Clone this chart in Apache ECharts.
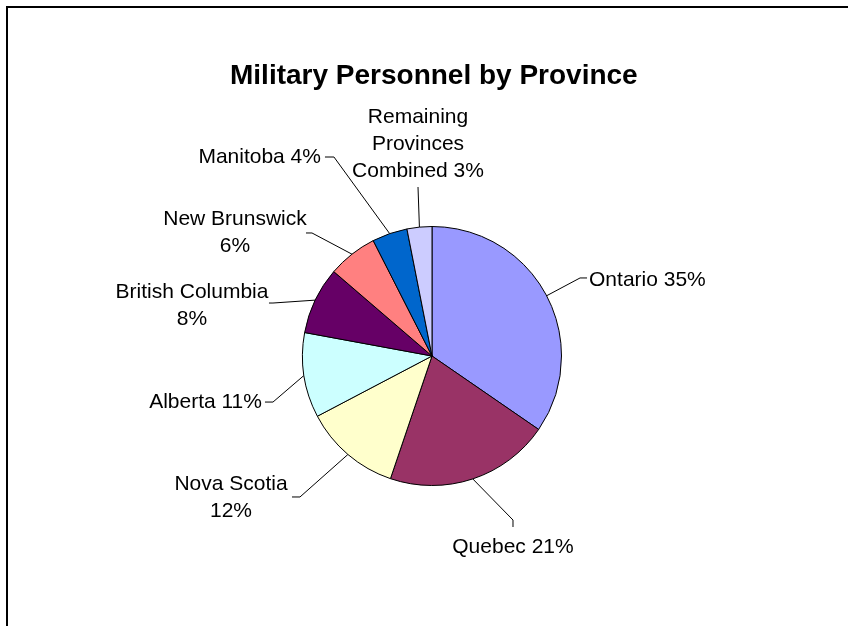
<!DOCTYPE html>
<html><head><meta charset="utf-8">
<script src="https://cdn.jsdelivr.net/npm/echarts@6/dist/echarts.min.js"></script>
<style>html,body{margin:0;padding:0;background:#fff}#c{width:848px;height:626px}</style>
</head><body><div id="c"></div>
<script>
const titleText = 'Military Personnel by Province';
const provinces = ['Ontario','Quebec','Nova Scotia','Alberta','British Columbia','New Brunswick','Manitoba','Remaining Provinces Combined'];
const shares = [34.6,20.6,12.1,10.6,8.4,6.2,4.4,3.1];
const labelNames = ['Ontario','Quebec','Nova Scotia\n','Alberta','British Columbia\n','New Brunswick\n','Manitoba','Remaining\nProvinces\nCombined'];
const colors = ['#9999FF','#993366','#FFFFCC','#CCFFFF','#660066','#FF8080','#0066CC','#CCCCFF'];

// leader/label layout offsets relative to the rim point of each slice:
// [bendDx, bendDy, endDx, endDy, labelDx, labelDy, align, verticalAlign]
const labelOffsets = [
  [33.4,-17.8, 40.4,-17.8, 42.4,-15.8, 'left','middle'],
  [40.2,41.1, 40.2,48.1, 40.2,55.1, 'center','top'],
  [-47.9,42.5, -55.9,42.5, -116.9,43.5, 'center','middle'],
  [-31,26.6, -39,26.6, -42,26.6, 'right','middle'],
  [-42.2,2.9, -46.2,2.9, -123.2,5.9, 'center','middle'],
  [-40,-21.2, -46,-21.2, -117,-21.2, 'center','middle'],
  [-55.7,-76.6, -64.7,-76.6, -68.7,-76.6, 'right','middle'],
  [-1.4,-40.1, -1.4,-40.1, -1.4,-42.1, 'center','bottom']
];

const FONT = 'Liberation Sans, Arial, sans-serif';
const chart = echarts.init(document.getElementById('c'));
chart.setOption({
  backgroundColor: '#fff',
  animation: false,
  title: {
    text: titleText, left: 225, top: 57,
    textStyle: { fontFamily: FONT, fontSize: 28, fontWeight: 'bold', color: '#000' }
  },
  graphic: [{
    type: 'rect', shape: { x: 7, y: 7, width: 1000, height: 1000 },
    style: { fill: 'none', stroke: '#000', lineWidth: 2 }, silent: true
  }],
  series: [{
    type: 'pie',
    center: [432, 356],
    radius: 129.5,
    startAngle: 90,
    clockwise: true,
    avoidLabelOverlap: false,
    percentPrecision: 0,
    data: provinces.map((p, i) => ({ name: p, value: shares[i], itemStyle: { color: colors[i] } })),
    itemStyle: { borderColor: '#000', borderWidth: 1 },
    label: {
      show: true, position: 'outside', color: '#000',
      fontFamily: FONT, fontSize: 21, lineHeight: 27,
      formatter: (p) => labelNames[p.dataIndex] + (labelNames[p.dataIndex].endsWith('\n') ? '' : ' ') + p.percent + '%'
    },
    labelLine: { show: true, lineStyle: { color: '#000', width: 1 } },
    labelLayout: function (params) {
      const o = labelOffsets[params.dataIndex];
      const s = params.labelLinePoints[0];
      return {
        x: s[0] + o[4], y: s[1] + o[5], align: o[6], verticalAlign: o[7],
        labelLinePoints: [[s[0], s[1]], [s[0] + o[0], s[1] + o[1]], [s[0] + o[2], s[1] + o[3]]]
      };
    },
    emphasis: { disabled: true }
  }]
});
</script></body></html>
